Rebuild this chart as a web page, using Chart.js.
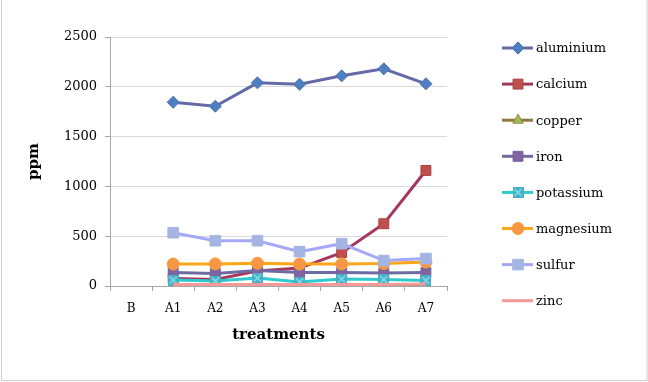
<!DOCTYPE html>
<html>
<head>
<meta charset="utf-8">
<script src="https://cdn.jsdelivr.net/npm/chart.js@4.4.1/dist/chart.umd.min.js"></script>
<style>
  html, body { margin: 0; padding: 0; background: #fff; }
  #wrap { width: 648px; height: 382px; }
</style>
</head>
<body>
<div id="wrap"><canvas id="chart" width="648" height="382"></canvas></div>
<script>
// data (ppm)
const treatments = ['B', 'A1', 'A2', 'A3', 'A4', 'A5', 'A6', 'A7'];
const aluminium = [null, 1845, 1805, 2040, 2025, 2110, 2180, 2030];
const calcium   = [null, 75, 65, 150, 180, 335, 625, 1160];
const copper    = [null, 5, 5, 5, 5, 5, 5, 5];
const iron      = [null, 135, 125, 155, 135, 135, 130, 135];
const potassium = [null, 60, 50, 80, 40, 70, 65, 55];
const magnesium = [null, 220, 222, 228, 220, 222, 225, 240];
const sulfur    = [null, 535, 455, 455, 345, 425, 255, 275];
const zinc      = [null, 15, 15, 15, 15, 15, 15, 20];
const yTicks = [0, 500, 1000, 1500, 2000, 2500];

const FONT = "'DejaVu Serif', serif";

// square with a cross, like the potassium marker
const kMark = document.createElement('canvas');
kMark.width = 11; kMark.height = 11;
(() => {
  const c = kMark.getContext('2d');
  c.fillStyle = '#4bacc6';
  c.fillRect(0, 0, 11, 11);
  c.strokeStyle = '#7fe3ea';
  c.lineWidth = 1.5;
  c.beginPath();
  c.moveTo(2, 2); c.lineTo(9, 9);
  c.moveTo(9, 2); c.lineTo(2, 9);
  c.stroke();
})();

function series(label, data, line, fill, edge, style, radius) {
  return {
    label, data,
    borderColor: line,
    borderWidth: 3,
    pointBackgroundColor: fill,
    pointBorderColor: edge,
    pointBorderWidth: 1,
    pointStyle: style,
    pointRadius: radius,
    pointHoverRadius: radius,
    tension: 0,
    spanGaps: false
  };
}

const datasets = [
  series('aluminium', aluminium, '#646aa8', '#4f7fc0', '#4a74b0', 'rectRot', 6),
  series('calcium', calcium, '#a3375f', '#c0504d', '#a8403e', 'rect', 7),
  series('copper', copper, '#8e7a3c', '#9bbb59', '#8f8a44', 'triangle', 6),
  series('iron', iron, '#6e6aa2', '#8064a2', '#7460a0', 'rect', 7),
  series('potassium', potassium, '#2fcacd', '#4bacc6', '#4bacc6', kMark, 5),
  series('magnesium', magnesium, '#fba51a', '#f79646', '#f7a030', 'circle', 6),
  series('sulfur', sulfur, '#a3a9f7', '#a5b5e3', '#a5b5e3', 'rect', 7.5),
  series('zinc', zinc, '#f59a98', '#f59a98', '#f59a98', false, 0)
];
// later series sit on top, as in the original
datasets.forEach((d, i) => { d.order = datasets.length - i; });

const frameAndLegend = {
  id: 'frameAndLegend',
  beforeDraw(chart) {
    const ctx = chart.ctx;
    ctx.save();
    ctx.fillStyle = '#fff';
    ctx.fillRect(0, 0, chart.width, chart.height);
    ctx.strokeStyle = '#cfcfcf';
    ctx.lineWidth = 1;
    ctx.strokeRect(1.5, -1, chart.width - 2.5, chart.height - 0.5);
    ctx.restore();
  },
  afterDraw(chart) {
    const ctx = chart.ctx;
    ctx.save();
    chart.data.datasets.forEach((d, i) => {
      const y = 48 + i * 36.1;
      ctx.strokeStyle = d.borderColor;
      ctx.lineWidth = 3;
      ctx.beginPath();
      ctx.moveTo(502, y);
      ctx.lineTo(533, y);
      ctx.stroke();
      if (d.pointStyle) {
        ctx.fillStyle = d.pointBackgroundColor;
        ctx.strokeStyle = d.pointBorderColor;
        ctx.lineWidth = 1;
        Chart.helpers.drawPoint(ctx, {pointStyle: d.pointStyle, radius: d.pointRadius, borderWidth: 1, rotation: 0}, 518, y);
      }
      ctx.fillStyle = '#000';
      ctx.font = '13px ' + FONT;
      ctx.textBaseline = 'middle';
      ctx.textAlign = 'left';
      ctx.fillText(d.label, 536, y + 1);
    });
    ctx.restore();
  }
};

new Chart(document.getElementById('chart'), {
  type: 'line',
  data: { labels: treatments, datasets },
  plugins: [frameAndLegend],
  options: {
    responsive: false,
    animation: false,
    events: [],
    layout: { padding: { top: 37, right: 201, left: 0, bottom: 0 } },
    plugins: { legend: { display: false }, tooltip: { enabled: false } },
    scales: {
      x: {
        offset: true,
        afterFit(scale) { scale.height = 96; },
        grid: { offset: true, drawOnChartArea: false, drawTicks: true, tickLength: 5, tickColor: '#a6a6a6' },
        border: { color: '#a6a6a6', width: 1 },
        ticks: { color: '#000', padding: 11, font: { family: FONT, size: 12 } },
        title: { display: true, text: 'treatments', color: '#000', padding: { top: 0, bottom: 38 },
                 font: { family: FONT, size: 15, weight: 'bold' } }
      },
      y: {
        min: 0, max: 2500,
        afterFit(scale) { scale.width = 110; },
        afterBuildTicks(scale) { scale.ticks = yTicks.map(v => ({ value: v })); },
        grid: { color: '#d9d9d9', drawTicks: true, tickLength: 5, tickColor: '#a6a6a6' },
        border: { color: '#a6a6a6', width: 1 },
        ticks: { color: '#000', padding: 8, font: { family: FONT, size: 13 },
                 callback: (v) => String(v) },
        title: { display: true, text: 'ppm', color: '#000', padding: { top: 25, bottom: 0 },
                 font: { family: FONT, size: 15, weight: 'bold' } }
      }
    }
  }
});
</script>
</body>
</html>
